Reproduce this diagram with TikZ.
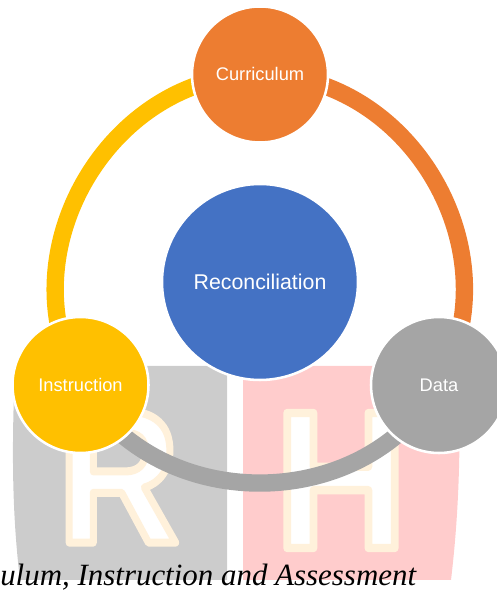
\documentclass[tikz,border=0pt]{standalone}
\usepackage{fontspec}
\usetikzlibrary{backgrounds}
\setmainfont{Liberation Sans}
\newfontfamily\captionfont{Liberation Serif}
\newcommand{\logostroke}[1]{\special{pdf:code 2 Tr 6 w 1 j 1 0.945 0.86 RG}#1\special{pdf:code 0 Tr 1 w 0 j 0 G}}
\definecolor{curriculumorange}{HTML}{ED7D31}
\definecolor{instructionyellow}{HTML}{FFC000}
\definecolor{datagrey}{HTML}{A5A5A5}
\definecolor{reconblue}{HTML}{4472C4}
\definecolor{panelgrey}{HTML}{CCCCCC}
\definecolor{panelpink}{HTML}{FFCCCC}

\begin{document}
\begin{tikzpicture}[
    x=0.75pt, y=0.75pt,
    phase/.style={circle, draw=white, line width=1.9pt, text=white,
        minimum size=102pt, inner sep=0pt, font=\fontsize{13.7}{16}\selectfont},
    hub/.style={phase, minimum size=147pt, font=\fontsize{16}{19}\selectfont},
    ringarc/.style={line width=13pt, -},
    logoletter/.style={inner sep=0pt, text=white,
        font=\fontsize{143}{143}\selectfont\bfseries}
]
    \useasboundingbox (0,0) rectangle (496,591);
    \node[phase, fill=curriculumorange, text depth=1.5pt] (curriculum) at (260,516.5) {Curriculum};
    \node[hub, fill=reconblue] (reconciliation) at (260,309) {Reconciliation};
    \node[phase, fill=instructionyellow] (instruction) at (80.5,206) {Instruction};
    \node[phase, fill=datagrey] (data) at (439,206) {Data};
    \begin{scope}[on background layer]
    \fill[panelgrey] (227,225) -- (227,11) -- (20,11)
        .. controls (13,70) and (11,130) .. (15,225) -- cycle;
    \fill[panelpink] (243,225) -- (243,11) -- (451,11)
        .. controls (458,70) and (461,130) .. (459,225) -- cycle;
    \node[logoletter, xscale=0.88] (rletter) at (118.5,114) {\logostroke{R}};
    \node[logoletter, xscale=0.96, yscale=1.03] (hletter) at (341,110.5) {\logostroke{H}};
    \draw[ringarc, curriculumorange] (curriculum.center) to[out=0, in=60, looseness=1.08] (data.center);
    \draw[ringarc, instructionyellow] (instruction.center) to[out=120, in=180, looseness=1.08] (curriculum.center);
    \draw[ringarc, datagrey] (data.center) to[out=240, in=300, looseness=1.08] (instruction.center);
    \end{scope}
    \node[anchor=base west, inner sep=0pt, font=\fontsize{23.2}{26}\captionfont\itshape] (caption) at (0,5)
        {ulum, Instruction and Assessment};
\end{tikzpicture}
\end{document}
